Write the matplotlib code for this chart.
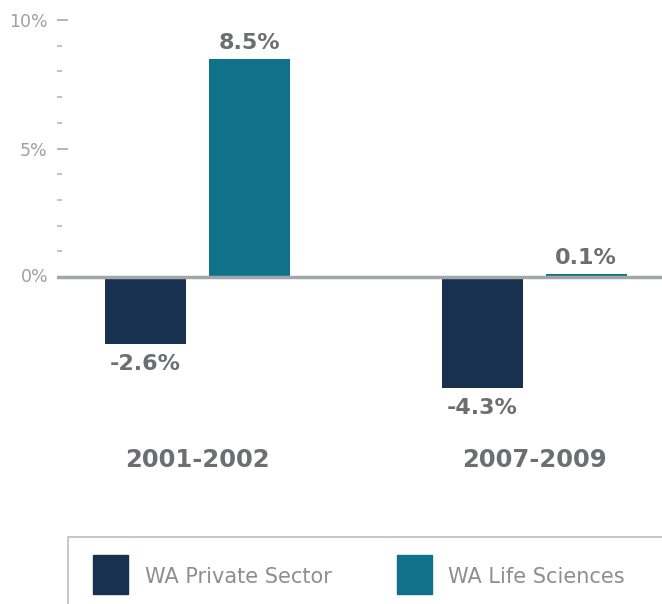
import matplotlib
matplotlib.use("Agg")
import matplotlib.pyplot as plt
from matplotlib.patches import Rectangle
import numpy as np

categories = ["2001-2002", "2007-2009"]
series_names = ["WA Private Sector", "WA Life Sciences"]
private_sector = [-2.6, -4.3]
life_sciences = [8.5, 0.1]
value_labels_private = ["-2.6%", "-4.3%"]
value_labels_life = ["8.5%", "0.1%"]
ytick_values = [0, 5, 10]
ytick_labels = ["0%", "5%", "10%"]

colors = ["#17314f", "#10718a"]
FONT = "DejaVu Sans"
W, H = 662, 604
fig = plt.figure(figsize=(W / 100, H / 100), dpi=100)

left_px, right_px = 57, 662
top_px, bot_px = 20, 420
ax = fig.add_axes([left_px / W, 1 - bot_px / H, (right_px - left_px) / W, (bot_px - top_px) / H])
ppu = (277 - 20) / 10.0
ymin = -(bot_px - 277) / ppu
ax.set_ylim(ymin, 10)

grp_px = 336.5
ax.set_xlim((left_px - 197.5) / grp_px, (right_px - 197.5) / grp_px)
x = np.arange(len(categories))
off = 52 / grp_px
bw = 81 / grp_px

ax.bar(x - off, private_sector, bw, color=colors[0], zorder=2)
ax.bar(x + off, life_sciences, bw, color=colors[1], zorder=2)
ax.axhline(0, color="#a3a6a9", lw=2.5, zorder=3)

for s in ax.spines.values():
    s.set_visible(False)
ax.set_xticks([])
ax.set_yticks(ytick_values[1:])
ax.set_yticklabels(ytick_labels[1:])
ax.set_yticks([1, 2, 3, 4, 6, 7, 8, 9], minor=True)
tickc = "#a0a0a3"
ax.tick_params(axis="y", which="major", direction="in", length=8, width=1.2,
               color="#a7a9ac", pad=7, labelsize=12.5, labelcolor=tickc)
ax.tick_params(axis="y", which="minor", direction="in", length=3.5, width=1.2,
               color="#b5b7ba")
for t in ax.get_yticklabels():
    t.set_fontfamily(FONT)
ax.annotate(ytick_labels[0], xy=(0, 0), xycoords=("axes fraction", "data"),
            xytext=(-9, 0), textcoords="offset pixels", ha="right", va="center",
            fontsize=12.5, color=tickc, family=FONT)

lblc = "#6d6e71"
for xi, v, s in zip(x - off, private_sector, value_labels_private):
    ax.annotate(s, xy=(xi, v), xytext=(0, -10), textcoords="offset pixels",
                ha="center", va="top", fontsize=16, fontweight="bold",
                color=lblc, family=FONT)
for xi, v, s in zip(x + off, life_sciences, value_labels_life):
    ax.annotate(s, xy=(xi, v), xytext=(0, 6), textcoords="offset pixels",
                ha="center", va="bottom", fontsize=16, fontweight="bold",
                color=lblc, family=FONT)

for xi, c in zip(x, categories):
    ax.annotate(c, xy=(xi, 0), xytext=(0, -(460 - 277)), textcoords="offset pixels",
                ha="center", va="center", fontsize=17.5, fontweight="bold",
                color=lblc, family=FONT)

fig.patches.append(Rectangle((68 / W, -0.1), 1.0, 1 - 537 / H + 0.1,
                             transform=fig.transFigure, fill=False,
                             edgecolor="#bdbdbd", lw=1.2))
leg_items = [(93, 145), (397, 448)]
for (px, tx), name, c in zip(leg_items, series_names, colors):
    fig.patches.append(Rectangle((px / W, 1 - 594 / H), 35 / W, 39 / H,
                                 transform=fig.transFigure, color=c))
    fig.text(tx / W, 1 - 577 / H, name, ha="left", va="center", fontsize=15,
             color="#8e8e91", family=FONT)

fig.savefig("out.png", dpi=100)
